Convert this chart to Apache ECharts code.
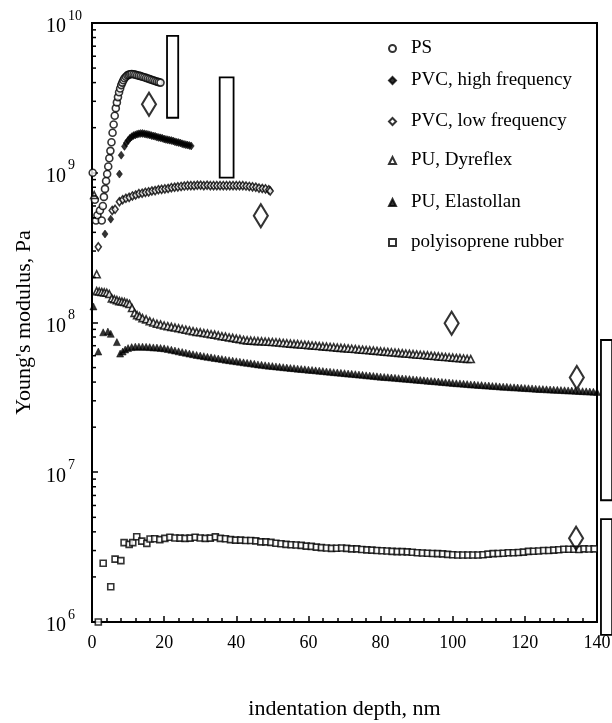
<!DOCTYPE html>
<html><head><meta charset="utf-8">
<script src="https://cdn.jsdelivr.net/npm/echarts@6/dist/echarts.min.js"></script>
<style>html,body{margin:0;padding:0;background:#fff}#c{width:612px;height:723px}</style>
</head><body><div id="c"></div>
<script>
const FONT = 'Liberation Serif';
const seriesNames = ['PS', 'PVC, high frequency', 'PVC, low frequency', 'PU, Dyreflex', 'PU, Elastollan', 'polyisoprene rubber'];
const legendTops = [34, 66, 107, 146, 188, 228];

const psData = [[0.2,1.0e9],[0.8,6.6e8],[1.1,4.8e8],[1.5,5.2e8],[2.2,5.6e8],[2.7,4.8e8],[3.0,6.0e8],[3.3,6.9e8],[3.6,7.8e8],[3.9,8.8e8],[4.2,9.8e8],[4.5,1.1e9],[4.8,1.25e9],[5.1,1.4e9],[5.4,1.6e9],[5.7,1.85e9],[6.0,2.1e9],[6.3,2.4e9],[6.6,2.7e9],[6.9,2.95e9],[7.2,3.2e9],[7.5,3.45e9],[7.8,3.65e9],[8.1,3.85e9],[8.4,4.0e9],[8.7,4.15e9],[9.0,4.28e9],[9.4,4.38e9],[9.8,4.47e9],[10.2,4.52e9],[10.6,4.55e9],[11.0,4.56e9],[11.5,4.55e9],[12,4.52e9],[12.5,4.48e9],[13,4.45e9],[13.5,4.42e9],[14,4.38e9],[14.5,4.34e9],[15,4.3e9],[15.5,4.26e9],[16,4.22e9],[16.5,4.18e9],[17,4.14e9],[17.5,4.1e9],[18,4.06e9],[18.5,4.03e9],[19,4.0e9]];

const pvcHighData = [[3.6,3.9e8],[5.2,4.9e8],[7.6,9.8e8],[8.1,1.31e9],[9.0,1.5e9],[9.5,1.58e9],[10,1.64e9],[10.5,1.7e9],[11,1.74e9],[11.5,1.77e9],[12,1.79e9],[12.5,1.81e9],[13,1.82e9],[13.5,1.83e9],[14,1.83e9],[14.5,1.82e9],[15,1.81e9],[15.5,1.8e9],[16,1.79e9],[16.5,1.77e9],[17,1.76e9],[17.5,1.75e9],[18,1.73e9],[18.5,1.72e9],[19,1.71e9],[19.5,1.7e9],[20,1.68e9],[20.5,1.67e9],[21,1.66e9],[21.5,1.65e9],[22,1.64e9],[22.5,1.63e9],[23,1.61e9],[23.5,1.6e9],[24,1.59e9],[24.5,1.58e9],[25,1.56e9],[25.5,1.55e9],[26,1.54e9],[26.5,1.53e9],[27,1.52e9],[27.5,1.51e9]];

const pvcLowData = [[1.75,3.2e8],[5.6,5.6e8],[6.4,5.7e8],[7.6,6.4e8],[8.5,6.6e8],[9.4,6.75e8],[10.3,6.85e8],[11.2,7.0e8],[12.1,7.1e8],[13,7.25e8],[13.9,7.3e8],[14.8,7.4e8],[15.7,7.45e8],[16.6,7.55e8],[17.5,7.6e8],[18.4,7.7e8],[19.3,7.75e8],[20.2,7.8e8],[21.1,7.85e8],[22,7.95e8],[22.9,8.0e8],[23.8,8.05e8],[24.7,8.1e8],[25.6,8.15e8],[26.5,8.2e8],[27.4,8.2e8],[28.3,8.2e8],[29.2,8.25e8],[30.1,8.25e8],[31,8.2e8],[31.9,8.25e8],[32.8,8.2e8],[33.7,8.2e8],[34.6,8.2e8],[35.5,8.2e8],[36.4,8.2e8],[37.3,8.2e8],[38.2,8.2e8],[39.1,8.2e8],[40,8.2e8],[40.9,8.2e8],[41.8,8.2e8],[42.7,8.15e8],[43.6,8.1e8],[44.5,8.05e8],[45.4,8.0e8],[46.3,7.9e8],[47.2,7.85e8],[48.1,7.8e8],[49,7.7e8],[49.4,7.55e8]];

const dyreflexData = [[0.6,7.1e8],[1.3,2.1e8],[1.3,1.62e8],[2,1.61e8],[2.7,1.6e8],[3.4,1.59e8],[4.1,1.58e8],[4.8,1.55e8],[5.5,1.45e8],[6.2,1.43e8],[6.9,1.41e8],[7.6,1.39e8],[8.3,1.38e8],[9,1.37e8],[9.7,1.35e8],[10.4,1.33e8],[11.1,1.25e8],[11.8,1.16e8],[12.5,1.12e8],[13.2,1.1e8],[14,1.07e8],[15,1.05e8],[16,1.02e8],[17,1.0e8],[18,9.8e7],[19,9.7e7],[20,9.55e7],[21,9.45e7],[22,9.35e7],[23,9.25e7],[24,9.15e7],[25,9.05e7],[26,8.95e7],[27,8.85e7],[28,8.75e7],[29,8.65e7],[30,8.6e7],[31,8.5e7],[32,8.45e7],[33,8.35e7],[34,8.3e7],[35,8.2e7],[36,8.1e7],[37,8.05e7],[38,7.95e7],[39,7.9e7],[40,7.8e7],[41,7.75e7],[42,7.65e7],[43,7.6e7],[44,7.57e7],[45,7.54e7],[46,7.51e7],[47,7.49e7],[48,7.46e7],[49,7.43e7],[50,7.41e7],[51,7.38e7],[52,7.35e7],[53,7.3e7],[54,7.27e7],[55,7.23e7],[56,7.2e7],[57,7.17e7],[58,7.13e7],[59,7.1e7],[60,7.06e7],[61,7.03e7],[62,7.0e7],[63,6.96e7],[64,6.93e7],[65,6.9e7],[66,6.87e7],[67,6.84e7],[68,6.8e7],[69,6.77e7],[70,6.74e7],[71,6.71e7],[72,6.68e7],[73,6.65e7],[74,6.61e7],[75,6.58e7],[76,6.55e7],[77,6.52e7],[78,6.49e7],[79,6.46e7],[80,6.42e7],[81,6.39e7],[82,6.36e7],[83,6.33e7],[84,6.3e7],[85,6.27e7],[86,6.24e7],[87,6.21e7],[88,6.18e7],[89,6.15e7],[90,6.12e7],[91,6.09e7],[92,6.06e7],[93,6.03e7],[94,6.0e7],[95,5.97e7],[96,5.94e7],[97,5.91e7],[98,5.88e7],[99,5.86e7],[100,5.83e7],[101,5.8e7],[102,5.78e7],[103,5.75e7],[104,5.72e7],[105,5.7e7]];

const elastollanData = [[0.4,1.28e8],[1.75,6.4e7],[3.1,8.6e7],[4.4,8.7e7],[5.2,8.4e7],[6.9,7.4e7],[7.8,6.2e7],[8.5,6.4e7],[9.2,6.6e7],[10,6.75e7],[11,6.85e7],[12,6.9e7],[13,6.9e7],[14,6.9e7],[15,6.88e7],[16,6.85e7],[17,6.82e7],[18,6.8e7],[19,6.76e7],[20,6.72e7],[21,6.65e7],[22,6.58e7],[23,6.5e7],[24,6.42e7],[25,6.35e7],[26,6.28e7],[27,6.2e7],[28,6.14e7],[29,6.07e7],[30,6.01e7],[31,5.96e7],[32,5.9e7],[33,5.85e7],[34,5.8e7],[35,5.75e7],[36,5.7e7],[37,5.65e7],[38,5.6e7],[39,5.56e7],[40,5.51e7],[41,5.47e7],[42,5.42e7],[43,5.38e7],[44,5.34e7],[45,5.3e7],[46,5.25e7],[47,5.22e7],[48,5.18e7],[49,5.15e7],[50,5.12e7],[51,5.09e7],[52,5.06e7],[53,5.03e7],[54,5.0e7],[55,4.97e7],[56,4.95e7],[57,4.92e7],[58,4.89e7],[59,4.87e7],[60,4.84e7],[61,4.82e7],[62,4.79e7],[63,4.77e7],[64,4.74e7],[65,4.71e7],[66,4.69e7],[67,4.66e7],[68,4.64e7],[69,4.61e7],[70,4.59e7],[71,4.56e7],[72,4.54e7],[73,4.52e7],[74,4.49e7],[75,4.47e7],[76,4.44e7],[77,4.42e7],[78,4.4e7],[79,4.37e7],[80,4.35e7],[81,4.33e7],[82,4.31e7],[83,4.29e7],[84,4.27e7],[85,4.25e7],[86,4.23e7],[87,4.21e7],[88,4.19e7],[89,4.17e7],[90,4.15e7],[91,4.13e7],[92,4.11e7],[93,4.09e7],[94,4.07e7],[95,4.05e7],[96,4.03e7],[97,4.01e7],[98,3.99e7],[99,3.97e7],[100,3.95e7],[101,3.93e7],[102,3.92e7],[103,3.9e7],[104,3.88e7],[105,3.86e7],[106,3.85e7],[107,3.83e7],[108,3.82e7],[109,3.8e7],[110,3.79e7],[111,3.77e7],[112,3.76e7],[113,3.74e7],[114,3.73e7],[115,3.72e7],[116,3.7e7],[117,3.69e7],[118,3.68e7],[119,3.66e7],[120,3.65e7],[121,3.64e7],[122,3.63e7],[123,3.61e7],[124,3.6e7],[125,3.59e7],[126,3.58e7],[127,3.57e7],[128,3.56e7],[129,3.55e7],[130,3.54e7],[131,3.53e7],[132,3.52e7],[133,3.51e7],[134,3.5e7],[135,3.49e7],[136,3.48e7],[137,3.47e7],[138,3.46e7],[139,3.45e7],[140,3.44e7]];

const rubberData = [[1.75,1.0e6],[3.1,2.47e6],[5.2,1.72e6],[6.4,2.63e6],[8.0,2.57e6],[8.9,3.39e6],[10.3,3.3e6],[11.3,3.39e6],[12.4,3.71e6],[13.8,3.47e6],[15.2,3.35e6],[16.1,3.58e6],[17.4,3.6e6],[18.8,3.55e6],[20.2,3.62e6],[21.6,3.68e6],[23,3.64e6],[24.4,3.63e6],[25.8,3.62e6],[27.2,3.63e6],[28.6,3.68e6],[30,3.64e6],[31.4,3.62e6],[32.8,3.63e6],[34.2,3.7e6],[35.6,3.62e6],[37,3.6e6],[38.4,3.55e6],[39.8,3.52e6],[41.2,3.52e6],[42.6,3.5e6],[44,3.5e6],[45.4,3.48e6],[46.8,3.43e6],[48.2,3.43e6],[49.6,3.4e6],[51,3.36e6],[52.4,3.33e6],[53.8,3.3e6],[55.2,3.28e6],[56.6,3.27e6],[58,3.25e6],[59.4,3.21e6],[60.8,3.2e6],[62.2,3.16e6],[63.6,3.14e6],[65,3.12e6],[66.4,3.1e6],[67.8,3.11e6],[69.2,3.12e6],[70.6,3.1e6],[72,3.08e6],[73.4,3.08e6],[74.8,3.05e6],[76.2,3.03e6],[77.6,3.02e6],[79,3.0e6],[80.4,2.99e6],[81.8,2.98e6],[83.2,2.96e6],[84.6,2.95e6],[86,2.95e6],[87.4,2.94e6],[88.8,2.92e6],[90.2,2.9e6],[91.6,2.89e6],[93,2.88e6],[94.4,2.87e6],[95.8,2.86e6],[97.2,2.85e6],[98.6,2.83e6],[100,2.81e6],[101.4,2.8e6],[102.8,2.8e6],[104.2,2.8e6],[105.6,2.8e6],[107,2.8e6],[108.4,2.81e6],[109.8,2.84e6],[111.2,2.86e6],[112.6,2.87e6],[114,2.88e6],[115.4,2.9e6],[116.8,2.9e6],[118.2,2.91e6],[119.6,2.93e6],[121,2.96e6],[122.4,2.97e6],[123.8,2.98e6],[125.2,3.0e6],[126.6,3.0e6],[128,3.02e6],[129.4,3.04e6],[130.8,3.06e6],[132.2,3.06e6],[133.6,3.06e6],[135,3.05e6],[136.4,3.08e6],[137.8,3.07e6],[139.2,3.08e6]];

// literature values: large open diamonds and range boxes [x0, y0, x1, y1]
const litPoints = [[15.8,2.87e9],[46.8,5.17e8],[99.7,9.88e7],[134.4,4.3e7],[134.2,3.62e6]];
const litRanges = [[20.8,2.33e9,23.9,8.2e9],[35.4,9.27e8,39.25,4.34e9],[141.1,6.5e6,144.2,7.64e7],[141.1,8.2e5,144.2,4.87e6]];

const xTicks = {min: 0, max: 140, interval: 20};
const yMinorTicks = [];
for (let d = 6; d < 10; d++) for (let m = 2; m <= 9; m++) yMinorTicks.push(m * Math.pow(10, d));

const open = {color: '#fff', borderColor: '#000', borderWidth: 1.6};
const filled = {color: '#000', borderColor: '#000', borderWidth: 0.6};

const chart = echarts.init(document.getElementById('c'), null, {renderer: 'canvas'});
const mkScatter = (name, data, symbol, size, style) => ({
  name, type: 'scatter', data, symbol, symbolSize: size, itemStyle: style,
  emphasis: {disabled: true}, z: 3
});

chart.setOption({
  animation: false,
  backgroundColor: '#fff',
  textStyle: {fontFamily: FONT, color: '#000'},
  grid: {left: 92, right: 15, top: 23, bottom: 101, show: true, borderColor: '#000', borderWidth: 2,
    containLabel: false, outerBoundsMode: 'none'},
  legend: seriesNames.map((n, i) => ({
    data: [n], orient: 'vertical', left: 383, top: legendTops[i],
    itemWidth: 7, itemHeight: 7, selectedMode: false,
    textStyle: {fontFamily: FONT, fontSize: 19, color: '#000', padding: [0, 0, 0, 10]}
  })),
  xAxis: {
    type: 'value', min: xTicks.min, max: xTicks.max, interval: xTicks.interval,
    name: 'indentation depth, nm', nameLocation: 'middle', nameGap: 76,
    nameTextStyle: {fontFamily: FONT, fontSize: 22, color: '#000'},
    axisLine: {lineStyle: {color: '#000', width: 2}},
    axisTick: {inside: true, length: 6, lineStyle: {color: '#000', width: 1.5}},
    minorTick: {show: true, splitNumber: 5, length: 4, lineStyle: {color: '#000', width: 1.5}},
    splitLine: {show: false},
    axisLabel: {fontFamily: FONT, fontSize: 18, color: '#000', margin: 12}
  },
  yAxis: {
    type: 'log', logBase: 10, min: 1e6, max: 1e10,
    name: "Young's modulus, Pa", nameLocation: 'middle', nameGap: 53,
    nameTextStyle: {fontFamily: FONT, fontSize: 22, color: '#000'},
    axisLine: {lineStyle: {color: '#000', width: 2}},
    axisTick: {inside: true, length: 6, lineStyle: {color: '#000', width: 1.5}},
    splitLine: {show: false},
    axisLabel: {
      margin: 46, align: 'left', color: '#000',
      formatter: v => '{b|10}{s|' + Math.round(Math.log10(v)) + '}',
      rich: {
        b: {fontFamily: FONT, fontSize: 20, color: '#000', padding: [8, 0, 0, 0]},
        s: {fontFamily: FONT, fontSize: 14, color: '#000', verticalAlign: 'top', padding: [0, 0, 0, 2]}
      }
    }
  },
  series: [
    mkScatter(seriesNames[0], psData, 'circle', 7, open),
    mkScatter(seriesNames[1], pvcHighData, 'diamond', [6, 8], filled),
    mkScatter(seriesNames[2], pvcLowData, 'diamond', [6, 8], open),
    mkScatter(seriesNames[3], dyreflexData, 'triangle', 7, open),
    mkScatter(seriesNames[4], elastollanData, 'triangle', 7, filled),
    mkScatter(seriesNames[5], rubberData, 'rect', 6, open),
    {
      type: 'scatter', data: litPoints, symbol: 'diamond', symbolSize: [14, 23],
      itemStyle: {color: 'rgba(255,255,255,0)', borderColor: '#000', borderWidth: 2.2},
      emphasis: {disabled: true}, z: 5, clip: false
    },
    {
      type: 'custom', data: litRanges, clip: false, z: 5,
      renderItem: (params, api) => {
        const p0 = api.coord([api.value(0), api.value(3)]);
        const p1 = api.coord([api.value(2), api.value(1)]);
        return {type: 'rect', shape: {x: p0[0], y: p0[1], width: p1[0] - p0[0], height: p1[1] - p0[1]},
          style: {fill: '#fff', stroke: '#000', lineWidth: 1.8}};
      }
    },
    {
      type: 'custom', data: yMinorTicks.map(v => [0, v]), clip: false, z: 6,
      renderItem: (params, api) => {
        const p = api.coord([0, api.value(1)]);
        return {type: 'line', shape: {x1: p[0], y1: p[1], x2: p[0] + 4, y2: p[1]},
          style: {stroke: '#000', lineWidth: 1.5}};
      }
    }
  ]
});
</script></body></html>
